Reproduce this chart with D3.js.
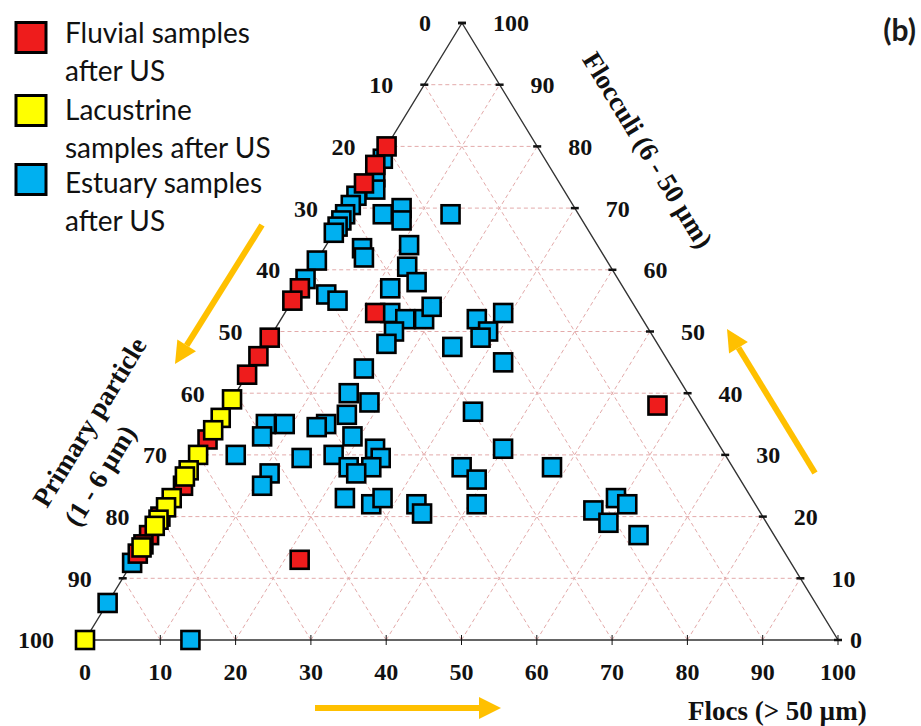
<!DOCTYPE html>
<html lang="en">
<head>
<meta charset="UTF-8">
<title>Ternary diagram of samples after US</title>
<script src="https://d3js.org/d3.v7.min.js"></script>
<style>
  body { margin: 0; background: #fff; }
  svg { display: block; }
</style>
</head>
<body>
<svg width="921" height="726" id="chart"></svg>
<script>
// tick values shared by the three axes
const tickValues = [0, 10, 20, 30, 40, 50, 60, 70, 80, 90, 100];

// each sample: [flocs, flocculi, primary] in %
const fluvial = [
  [0, 80, 20], [0, 77, 23], [0, 74, 26], [0, 57, 43], [0, 55, 45],
  [0, 49, 51], [0, 46, 54], [0, 43, 57], [0, 32.5, 67.5], [0.5, 25, 74.5],
  [0, 20, 80], [0, 17, 83], [0, 15.5, 84.5], [0, 14, 86],
  [12, 53, 35], [57, 38, 5], [22, 13, 65]
];

const lacustrine = [
  [0, 39, 61], [0, 36, 64], [0, 34, 66], [0, 30, 70], [0, 27.5, 72.5],
  [0, 26.5, 73.5], [0, 23, 77], [0, 21.5, 78.5], [0, 19.5, 80.5],
  [0, 18.5, 81.5], [0, 15, 85], [0, 0, 100]
];

const estuary = [
  [0.5, 78, 21.5], [1, 75, 24], [2, 73, 25], [0, 72, 28], [0, 70.5, 29.5],
  [0, 69, 31], [0, 68, 32], [0, 67, 33], [0, 66, 34], [0, 61.5, 38.5],
  [0, 58.5, 41.5], [0, 12.5, 87.5], [0, 6, 94], [14, 0, 86],
  [4, 56, 40], [6, 55, 39], [5, 63.5, 31.5], [6, 62, 32], [5, 69, 26],
  [7, 70, 23], [8, 68, 24], [14, 69, 17], [11, 64, 25], [12.5, 60.5, 27],
  [15, 58, 27], [12, 57, 31], [14, 53, 33], [16.5, 52, 31.5], [19, 52, 29],
  [19, 54, 27], [16, 50, 34], [16, 48, 36], [25, 47.5, 27.5], [26, 52, 22],
  [29, 53, 18], [28.5, 50, 21.5], [28, 49, 23], [33, 45, 22], [15, 44, 41],
  [15, 40, 45], [18.5, 38.5, 43], [16.5, 36.5, 47], [33, 37, 30], [9, 35, 56],
  [6.5, 35, 58.5], [7, 33, 60], [14.5, 35, 50.5], [13.5, 34.5, 52], [19, 33, 48],
  [5, 30, 65], [14, 29.5, 56.5], [18, 30, 52], [23, 31, 46], [24.5, 29.5, 46],
  [24, 28, 48], [21, 28, 51], [22.5, 27, 50.5], [11, 27, 62], [11, 25, 64],
  [23, 23, 54], [27, 22, 51], [28, 23, 49], [33, 22, 45], [34.5, 20.5, 45],
  [36, 28, 36], [39, 26, 35], [41, 22, 37], [40, 31, 29], [48, 28, 24],
  [57, 21, 22], [60, 19, 21], [59, 23, 18], [61, 22, 17], [65, 17, 18]
];

const legendNames = [
  ["Fluvial samples", "after US"],
  ["Lacustrine", "samples after US"],
  ["Estuary samples", "after US"]
];
const seriesColors = ["#ee1c1c", "#ffff00", "#00b0f0"];

const svg = d3.select("#chart");

// ternary frame: flocs along the bottom, flocculi towards the apex
const xBottom = d3.scaleLinear().domain([0, 100]).range([85, 838]);
const xShift = d3.scaleLinear().domain([0, 100]).range([0, 377]);
const yUp = d3.scaleLinear().domain([0, 100]).range([640, 23]);
const proj = (f, c) => [xBottom(f) + xShift(c), yUp(c)];

const serif = "'Liberation Serif', 'Times New Roman', serif";
const sans = "Lato, 'Open Sans', sans-serif";

// dashed grid
const grid = svg.append("g")
  .attr("stroke", "#e3aaaa")
  .attr("stroke-width", 1)
  .attr("stroke-dasharray", "4,3")
  .attr("fill", "none");
tickValues.slice(1, -1).forEach(v => {
  const segs = [
    [proj(0, v), proj(100 - v, v)],          // flocculi constant
    [proj(v, 0), proj(v, 100 - v)],          // flocs constant
    [proj(100 - v, 0), proj(0, 100 - v)]     // primary constant
  ];
  segs.forEach(s => grid.append("line")
    .attr("x1", s[0][0]).attr("y1", s[0][1])
    .attr("x2", s[1][0]).attr("y2", s[1][1]));
});

// triangle outline
const corners = [proj(0, 0), proj(100, 0), proj(0, 100)];
svg.append("path")
  .attr("d", d3.line()(corners) + "Z")
  .attr("fill", "none")
  .attr("stroke", "#333")
  .attr("stroke-width", 1.4);

// ticks
const tickG = svg.append("g").attr("stroke", "#111");
tickValues.forEach(v => {
  const l = proj(0, 100 - v);   // left edge: primary = v
  const r = proj(100 - v, v);   // right edge: flocculi = v
  const b = proj(v, 0);         // bottom: flocs = v
  tickG.append("line").attr("x1", l[0] - 4).attr("x2", l[0] + 4)
    .attr("y1", l[1]).attr("y2", l[1]).attr("stroke-width", 2.5);
  tickG.append("line").attr("x1", r[0] - 4).attr("x2", r[0] + 4)
    .attr("y1", r[1]).attr("y2", r[1]).attr("stroke-width", 2.5);
  tickG.append("line").attr("x1", b[0]).attr("x2", b[0])
    .attr("y1", b[1] - 5).attr("y2", b[1] + 5).attr("stroke-width", 1);
});

// tick labels
const labG = svg.append("g")
  .attr("font-family", serif)
  .attr("font-weight", "bold")
  .attr("font-size", 24)
  .attr("fill", "#111");
tickValues.forEach(v => {
  const l = proj(0, 100 - v);
  const r = proj(100 - v, v);
  const b = proj(v, 0);
  labG.append("text").attr("x", l[0] - 31).attr("y", l[1])
    .attr("dy", "0.35em").attr("text-anchor", "end").text(v);
  labG.append("text").attr("x", r[0] + (v === 0 ? 12 : 31)).attr("y", r[1])
    .attr("dy", "0.35em").attr("text-anchor", "start").text(v);
  labG.append("text").attr("x", b[0]).attr("y", b[1] + 40)
    .attr("text-anchor", "middle").text(v);
});

// axis titles
const edgeAngle = Math.atan2(yUp(0) - yUp(100), xShift(100)) * 180 / Math.PI;
svg.append("text")
  .attr("transform", `translate(648,150) rotate(${edgeAngle})`)
  .attr("text-anchor", "middle").attr("dy", "0.35em")
  .attr("font-family", serif).attr("font-weight", "bold").attr("font-size", 27)
  .attr("fill", "#111")
  .text("Flocculi (6 - 50 µm)");

const prim = svg.append("text")
  .attr("transform", `translate(47,509) rotate(${-edgeAngle})`)
  .attr("font-family", serif).attr("font-weight", "bold").attr("font-size", 27)
  .attr("fill", "#111");
prim.append("tspan").attr("x", 0).attr("y", 0).text("Primary particle");
prim.append("tspan").attr("x", 0).attr("dy", 37).text("(1 - 6 µm)");

svg.append("text")
  .attr("x", 688).attr("y", 720)
  .attr("font-family", serif).attr("font-weight", "bold").attr("font-size", 27)
  .attr("fill", "#111")
  .text("Flocs (> 50 µm)");

// orange direction arrows
function arrow(x1, y1, x2, y2) {
  const a = Math.atan2(y2 - y1, x2 - x1);
  const head = 22, half = 11;
  const bx = x2 - head * Math.cos(a), by = y2 - head * Math.sin(a);
  svg.append("line")
    .attr("x1", x1).attr("y1", y1).attr("x2", bx).attr("y2", by)
    .attr("stroke", "#ffc000").attr("stroke-width", 6);
  const px = -Math.sin(a) * half, py = Math.cos(a) * half;
  svg.append("path")
    .attr("d", `M${x2},${y2}L${bx + px},${by + py}L${bx - px},${by - py}Z`)
    .attr("fill", "#ffc000");
}
arrow(262, 225, 175, 364);
arrow(815, 473, 727, 329);
arrow(315, 708, 501, 708);

// samples
const marker = 18;
[estuary, fluvial, lacustrine].forEach((series, k) => {
  const color = seriesColors[[2, 0, 1][k]];
  svg.append("g").selectAll("rect")
    .data(series)
    .join("rect")
    .attr("x", d => proj(d[0], d[1])[0] - marker / 2)
    .attr("y", d => proj(d[0], d[1])[1] - marker / 2)
    .attr("width", marker).attr("height", marker)
    .attr("fill", color)
    .attr("stroke", "#000")
    .attr("stroke-width", 2.6);
});

// legend
const leg = svg.append("g");
legendNames.forEach((lines, i) => {
  const boxTop = [21, 94, 163][i];
  const base = [43, 120, 193][i];
  leg.append("rect")
    .attr("x", 16).attr("y", boxTop + 1.5)
    .attr("width", 30).attr("height", 30)
    .attr("fill", seriesColors[i]).attr("stroke", "#000").attr("stroke-width", 3);
  const t = leg.append("text")
    .attr("font-family", sans)
    .attr("font-size", 28).attr("fill", "#111");
  lines.forEach((s, j) => t.append("tspan")
    .attr("x", 65).attr("y", base + j * 38).text(s));
});

svg.append("text")
  .attr("x", 916).attr("y", 41)
  .attr("text-anchor", "end")
  .attr("font-family", sans)
  .attr("font-weight", "bold").attr("font-size", 30)
  .attr("fill", "#1a1a1a")
  .text("(b)");
</script>
</body>
</html>
